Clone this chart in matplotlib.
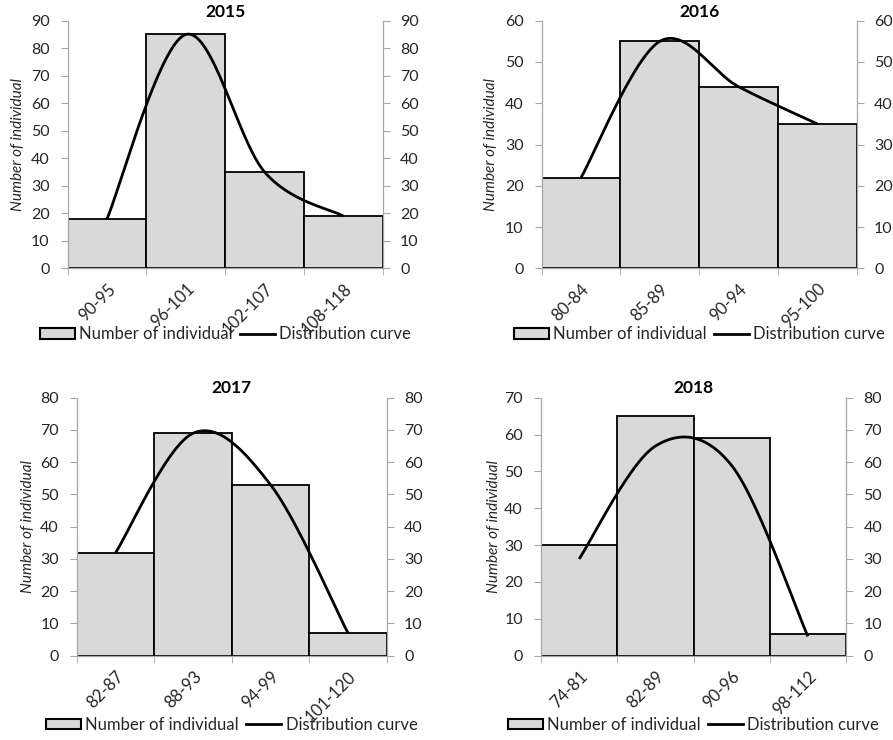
import numpy as np
import matplotlib
matplotlib.use("Agg")
import matplotlib.pyplot as plt
from matplotlib.patches import Patch
from matplotlib.lines import Line2D

plt.rcParams['font.family'] = ['Lato', 'DejaVu Sans']

# classes and counts per year
years = ["2015", "2016", "2017", "2018"]
classes_2015 = ["90-95", "96-101", "102-107", "108-118"]
classes_2016 = ["80-84", "85-89", "90-94", "95-100"]
classes_2017 = ["82-87", "88-93", "94-99", "101-120"]
classes_2018 = ["74-81", "82-89", "90-96", "98-112"]
counts_2015 = [18, 85, 35, 19]
counts_2016 = [22, 55, 44, 35]
counts_2017 = [32, 69, 53, 7]
counts_2018 = [30, 65, 59, 6]

# axis limits (left, right)
ymax_left = [90, 60, 80, 70]
ymax_right = [90, 60, 80, 80]

GRAY = "#a6a6a6"
TXT = "#262626"
BAR = "#d9d9d9"


def smooth_line(xs, ys, n=50):
    # bezier smoothing through points, like a "smoothed line" chart
    xs = np.asarray(xs, float)
    ys = np.asarray(ys, float)
    px, py = [], []
    m = len(xs)
    for i in range(m - 1):
        i0 = max(i - 1, 0)
        i3 = min(i + 2, m - 1)
        c1x = xs[i] + (xs[i + 1] - xs[i0]) / 6
        c1y = ys[i] + (ys[i + 1] - ys[i0]) / 6
        c2x = xs[i + 1] - (xs[i3] - xs[i]) / 6
        c2y = ys[i + 1] - (ys[i3] - ys[i]) / 6
        t = np.linspace(0, 1, n)
        a, b, c, d = (1 - t) ** 3, 3 * (1 - t) ** 2 * t, 3 * (1 - t) * t ** 2, t ** 3
        px.append(a * xs[i] + b * c1x + c * c2x + d * xs[i + 1])
        py.append(a * ys[i] + b * c1y + c * c2y + d * ys[i + 1])
    return np.concatenate(px), np.concatenate(py)


W, H = 893, 740
fig = plt.figure(figsize=(W / 100, H / 100), dpi=100)

# pixel boxes of the plot areas: left, top, right, bottom
boxes = [(67.7, 20.7, 382.7, 268.3),
         (541.7, 20.7, 856.7, 268.3),
         (77, 397.7, 386.7, 655.7),
         (541, 397.7, 846, 655.7)]
ylab_x = [-0.136, -0.14, -0.136, -0.131]

classes = [classes_2015, classes_2016, classes_2017, classes_2018]
counts = [counts_2015, counts_2016, counts_2017, counts_2018]

for k in range(4):
    l, t, r, b = boxes[k]
    ax = fig.add_axes([l / W, (H - b) / H, (r - l) / W, (b - t) / H])
    x = np.arange(len(classes[k]))
    ax.bar(x, counts[k], width=1.0, color=BAR, edgecolor="black", linewidth=1.3, zorder=2)
    ax.set_xlim(-0.5, len(x) - 0.5)
    ax.set_ylim(0, ymax_left[k])
    ax.set_yticks(np.arange(0, ymax_left[k] + 1, 10))

    ax.set_xticks(x)
    ax.set_xticklabels(classes[k], rotation=45, ha="right", rotation_mode="anchor",
                       fontsize=12, color=TXT)
    ax.set_xticks(np.arange(-0.5, len(x)), minor=True)
    ax.tick_params(axis="x", which="major", length=0, pad=9)
    ax.tick_params(axis="x", which="minor", length=5, color=GRAY, direction="out")
    ax.tick_params(axis="y", length=5, color=GRAY, pad=8, labelsize=11.5, labelcolor=TXT)

    for s in ["top", "right"]:
        ax.spines[s].set_visible(False)
    for s in ["left", "bottom"]:
        ax.spines[s].set_color(GRAY)
        ax.spines[s].set_linewidth(0.9)

    ax.set_ylabel("Number of individual", style="italic", fontsize=11, color=TXT)
    ax.yaxis.set_label_coords(ylab_x[k], 0.5)
    ax.text(0.5, 1.036, years[k], transform=ax.transAxes, ha="center", va="center",
            fontsize=12.5, fontweight="bold", color="black")

    # distribution curve on the secondary axis
    ax2 = ax.twinx()
    sx, sy = smooth_line(x, counts[k])
    ax2.plot(sx, sy, color="black", linewidth=2, solid_capstyle="butt", zorder=3)
    ax2.set_ylim(0, ymax_right[k])
    ax2.set_yticks(np.arange(0, ymax_right[k] + 1, 10))
    ax2.tick_params(axis="y", length=5, color=GRAY, pad=7.5, labelsize=11.5, labelcolor=TXT)
    for s in ["top", "left", "bottom"]:
        ax2.spines[s].set_visible(False)
    ax2.spines["right"].set_color(GRAY)
    ax2.spines["right"].set_linewidth(0.9)

    legend_y = -66 / (b - t) if k < 2 else -69.3 / (b - t)
    handles = [Patch(facecolor=BAR, edgecolor="black", linewidth=1.5),
               Line2D([0], [0], color="black", linewidth=2)]
    ax.legend(handles, ["Number of individual", "Distribution curve"],
              loc="center", bbox_to_anchor=(0.5, legend_y), ncol=2, frameon=False,
              fontsize=12, handlelength=2.1, handleheight=0.6, handletextpad=0.25,
              columnspacing=0.45, labelcolor=TXT)

fig.savefig("out.png", dpi=100)
